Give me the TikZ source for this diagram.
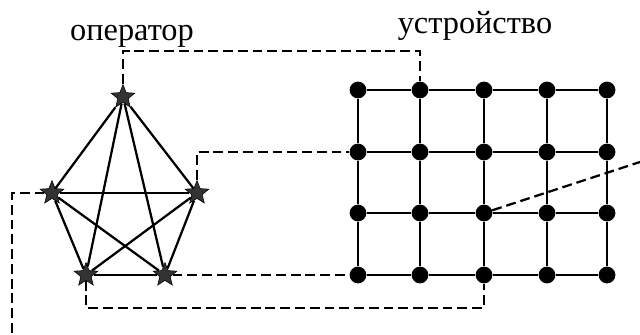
\documentclass[tikz,border=0pt]{standalone}
\usepackage{fontspec}
\setmainfont{Liberation Serif}
\usetikzlibrary{shapes.geometric}
\tikzstyle{agent} = [star, star points=5, star point ratio=2.3, minimum size=0.62cm, inner sep=0pt, draw=black, fill=black!80]
\tikzstyle{cell} = [circle, minimum size=0.42cm, inner sep=0pt, fill=black]
\tikzstyle{edge} = [line width=1.6pt]
\tikzstyle{link} = [line width=1.6pt, dash pattern=on 7pt off 3.5pt]
\tikzstyle{caption} = [anchor=base, font=\fontsize{23}{27}\selectfont]

\begin{document}
\begin{tikzpicture}[x=0.025cm, y=-0.025cm]
    \useasboundingbox (0,0) rectangle (640,335);
    \node (op) [caption] at (132,40) {оператор};
    \node (dev) [caption] at (475,33) {устройство};

    % operator: five agents, all linked
    \node (s1) [agent] at (123,97) {};
    \node (s2) [agent] at (52,193) {};
    \node (s3) [agent] at (197,193) {};
    \node (s4) [agent] at (86,275) {};
    \node (s5) [agent] at (165,275) {};
    \foreach \a/\b in {1/2,1/3,1/4,1/5,2/3,2/4,2/5,3/4,3/5,4/5}
        \draw [edge] (s\a) -- (s\b);

    % device: 4x5 grid of cells
    \foreach \x [count=\c] in {358,420,484,547,607}
        \foreach \y [count=\r] in {90,152,213,275}
            \node (g-\r-\c) [cell] at (\x,\y) {};
    \foreach \r in {1,...,4}
        \foreach \c/\d in {1/2,2/3,3/4,4/5}
            \draw [edge] (g-\r-\c) -- (g-\r-\d);
    \foreach \c in {1,...,5}
        \foreach \r/\s in {1/2,2/3,3/4}
            \draw [edge] (g-\r-\c) -- (g-\s-\c);

    % mapping of agents onto cells
    \coordinate (e1) at (12,335);
    \coordinate (e2) at (640,162);
    \draw [link] (s1) -- ++(0,-46) -| (g-1-2);
    \draw [link] (s3) |- (g-2-1);
    \draw [link] (s5) -- (g-4-1);
    \draw [link] (s4) -- ++(0,33) -| (g-4-3);
    \draw [link] (s2) -| (e1);
    \draw [link] (g-3-3) -- (e2);
\end{tikzpicture}
\end{document}
